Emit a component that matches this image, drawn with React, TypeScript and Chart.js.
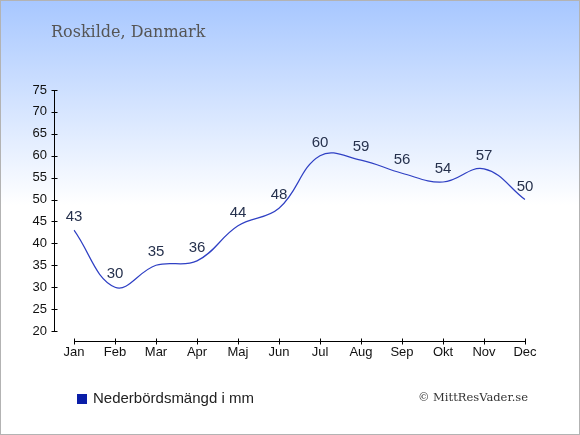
import React, { useEffect, useRef } from 'react';
import { Chart, registerables } from 'chart.js';

Chart.register(...registerables);

const months = ['Jan', 'Feb', 'Mar', 'Apr', 'Maj', 'Jun', 'Jul', 'Aug', 'Sep', 'Okt', 'Nov', 'Dec'];
const rainfall = [43, 30, 35, 36, 44, 48, 60, 59, 56, 54, 57, 50];
const title = 'Roskilde, Danmark';
const legendLabel = 'Nederbördsmängd i mm';
const credit = '© MittResVader.se';

const sansFont = '"Liberation Sans", Arial, sans-serif';
const serifFont = '"DejaVu Serif", serif';

const decorPlugin = {
  id: 'decor',
  beforeDraw(chart) {
    const { ctx, width, height } = chart;
    ctx.save();
    const grad = ctx.createLinearGradient(0, 0, 0, 205);
    grad.addColorStop(0, '#a7c7ff');
    grad.addColorStop(1, '#ffffff');
    ctx.fillStyle = '#ffffff';
    ctx.fillRect(0, 0, width, height);
    ctx.fillStyle = grad;
    ctx.fillRect(0, 0, width, 205);
    ctx.strokeStyle = '#b3b3b3';
    ctx.lineWidth = 1;
    ctx.strokeRect(0.5, 0.5, width - 1, height - 1);

    ctx.fillStyle = '#555555';
    ctx.font = '16px ' + serifFont;
    ctx.textBaseline = 'alphabetic';
    ctx.fillText(title, 51, 37);
    ctx.restore();
  },
  beforeDatasetsDraw(chart) {
    const { ctx, chartArea } = chart;
    const x = chart.scales.x;
    const y = chart.scales.y;
    const axisX = Math.round(chartArea.left - 20) + 0.5;
    const axisY = Math.round(chartArea.bottom + 10) + 0.5;
    ctx.save();
    ctx.strokeStyle = '#000000';
    ctx.lineWidth = 1;
    ctx.beginPath();
    ctx.moveTo(axisX, y.getPixelForValue(y.max));
    ctx.lineTo(axisX, y.getPixelForValue(y.min));
    y.ticks.forEach((t) => {
      const py = Math.round(y.getPixelForValue(t.value)) + 0.5;
      ctx.moveTo(axisX - 3, py);
      ctx.lineTo(axisX + 3, py);
    });
    ctx.moveTo(x.getPixelForValue(0), axisY);
    ctx.lineTo(x.getPixelForValue(months.length - 1), axisY);
    months.forEach((m, i) => {
      const px = Math.round(x.getPixelForValue(i)) + 0.5;
      ctx.moveTo(px, axisY - 3);
      ctx.lineTo(px, axisY + 3);
    });
    ctx.stroke();
    ctx.restore();
  },
  afterDatasetsDraw(chart) {
    const { ctx } = chart;
    const meta = chart.getDatasetMeta(0);
    ctx.save();
    ctx.fillStyle = '#26314d';
    ctx.font = '15px ' + sansFont;
    ctx.textAlign = 'center';
    ctx.textBaseline = 'middle';
    meta.data.forEach((pt, i) => {
      ctx.fillText(String(rainfall[i]), pt.x, pt.y - 13);
    });

    // legend
    ctx.fillStyle = '#0a1ea8';
    ctx.fillRect(77, 394, 10, 10);
    ctx.fillStyle = '#222222';
    ctx.font = '15px ' + sansFont;
    ctx.textAlign = 'left';
    ctx.fillText(legendLabel, 93, 399);

    ctx.fillStyle = '#333333';
    ctx.font = '11.5px ' + serifFont;
    ctx.textAlign = 'right';
    ctx.fillText(credit, 528, 398);
    ctx.restore();
  },
};

const App = () => {
  const chartRef = useRef(null);

  useEffect(() => {
    document.body.style.margin = '0';
    if (!chartRef.current) return;

    const myChart = new Chart(chartRef.current, {
      type: 'line',
      data: {
        labels: months,
        datasets: [
          {
            label: legendLabel,
            data: rainfall,
            borderColor: '#2f40c4',
            backgroundColor: '#0a1ea8',
            borderWidth: 1.2,
            tension: 0.4,
            pointRadius: 0,
            fill: false,
          },
        ],
      },
      options: {
        responsive: false,
        animation: false,
        devicePixelRatio: 1,
        layout: { padding: { top: 90, right: 55, bottom: 0, left: 0 } },
        plugins: {
          legend: { display: false },
          title: { display: false },
          tooltip: { enabled: false },
        },
        scales: {
          x: {
            offset: false,
            grid: { display: false, drawTicks: false },
            border: { display: false },
            ticks: {
              padding: 14,
              color: '#111111',
              font: { family: sansFont, size: 13 },
              maxRotation: 0,
              autoSkip: false,
            },
            afterFit: (scale) => {
              scale.height = 104;
            },
          },
          y: {
            min: 20,
            max: 75,
            grid: { display: false, drawTicks: false },
            border: { display: false },
            ticks: {
              stepSize: 5,
              padding: 27,
              color: '#111111',
              font: { family: sansFont, size: 13 },
            },
            afterFit: (scale) => {
              scale.width = 74;
            },
          },
        },
      },
      plugins: [decorPlugin],
    });

    return () => {
      myChart.destroy();
    };
  }, []);

  return (
    <div style={{ width: 580, height: 435 }}>
      <canvas ref={chartRef} width={580} height={435} />
    </div>
  );
};

export default App;
